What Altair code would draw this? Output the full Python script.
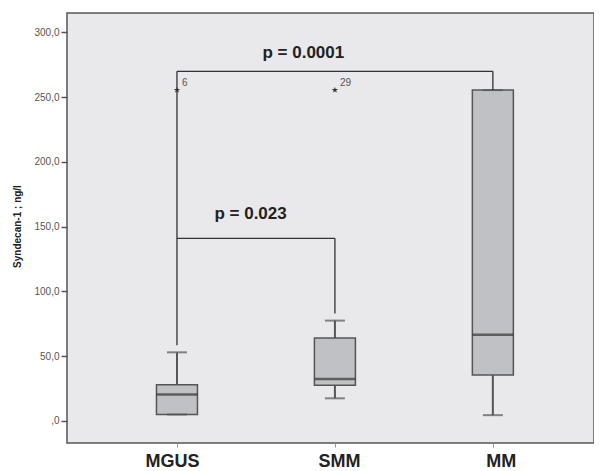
import altair as alt
import pandas as pd

# ---- data ----
groups = ["MGUS", "SMM", "MM"]
positions = [1, 2, 3]
whisker_low = [5.0, 17.5, 4.5]
q1 = [5.0, 27.5, 35.5]
median = [20.5, 32.5, 66.5]
q3 = [28.0, 64.0, 255.5]
whisker_high = [53.0, 77.5, 255.5]

outlier_pos = [1, 2]
outlier_val = [255.5, 255.5]
outlier_lbl = ["6", "29"]

# significance brackets
h_x1 = [1, 1]
h_x2 = [3, 2]
h_y = [270.0, 141.0]
v_x = [1, 3, 2]
v_y1 = [58.5, 255.5, 83.0]
v_y2 = [270.0, 270.0, 141.0]
p_text = ["p = 0.0001", "p = 0.023"]
p_x = [1.80, 1.466]
p_y = [284.0, 160.0]

y_ticks = [0, 50, 100, 150, 200, 250, 300]

boxes = pd.DataFrame({"g": groups, "x": positions, "lo": whisker_low, "q1": q1,
                      "med": median, "q3": q3, "hi": whisker_high})
outl = pd.DataFrame({"x": outlier_pos, "y": outlier_val, "lbl": outlier_lbl})
hrules = pd.DataFrame({"x": h_x1, "x2": h_x2, "y": h_y})
vrules = pd.DataFrame({"x": v_x, "y": v_y1, "y2": v_y2})
ptext = pd.DataFrame({"t": p_text, "x": p_x, "y": p_y})

W, H = 527, 430
xscale = alt.Scale(domain=[0.3354, 3.6087], nice=False, zero=False)
yscale = alt.Scale(domain=[-17, 315], nice=False, zero=False)

xaxis = alt.Axis(values=positions, title=None, grid=False, domain=False,
                 labelExpr="datum.value == 1 ? 'MGUS' : datum.value == 2 ? 'SMM' : 'MM'",
                 labelFont="Liberation Sans", labelFontSize=18, labelFontWeight="bold",
                 labelColor="#222222", tickSize=4, tickColor="#999999", labelPadding=5,
                 labelOffset={"condition": [{"test": "datum.value == 1", "value": -5},
                                            {"test": "datum.value == 3", "value": 8}],
                              "value": 4})
yaxis = alt.Axis(values=y_ticks, grid=False, domain=False,
                 labelExpr="datum.value == 0 ? ',0' : replace(format(datum.value, '.1f'), '.', ',')",
                 labelFont="Liberation Sans", labelFontSize=10, labelColor="#555555",
                 tickSize=6, tickColor="#555555", tickWidth=1.5, labelPadding=2,
                 title="Syndecan-1 ; ng/l", titleFont="Liberation Sans", titleFontSize=10,
                 titleFontWeight="bold", titleColor="#222222", titleAngle=-90,
                 titleX=-50, titleY=213, titleAlign="center", titleBaseline="middle")

base_x = alt.X("x:Q", scale=xscale, axis=xaxis)

whisk = alt.Chart(boxes).mark_rule(color="#555555", strokeWidth=2).encode(
    x=base_x, y=alt.Y("lo:Q", scale=yscale, axis=yaxis), y2="hi:Q")
box = alt.Chart(boxes).mark_bar(size=41, orient="vertical", color="#c0c1c4",
                                stroke="#555555", strokeWidth=1.5).encode(
    x=alt.X("x:Q", scale=xscale), y=alt.Y("q1:Q", scale=yscale), y2="q3:Q")
med = alt.Chart(boxes).mark_tick(orient="horizontal", size=41, thickness=2.5,
                                 color="#333333").encode(
    x=alt.X("x:Q", scale=xscale), y=alt.Y("med:Q", scale=yscale))
cap_hi = alt.Chart(boxes).mark_tick(orient="horizontal", size=20, thickness=2,
                                    color="#555555").encode(
    x=alt.X("x:Q", scale=xscale), y=alt.Y("hi:Q", scale=yscale))
cap_lo = alt.Chart(boxes).mark_tick(orient="horizontal", size=20, thickness=2,
                                    color="#555555").encode(
    x=alt.X("x:Q", scale=xscale), y=alt.Y("lo:Q", scale=yscale))

star_path = ("M0,-1L0.2245,-0.309L0.951,-0.309L0.363,0.118L0.588,0.809L0,0.382"
             "L-0.588,0.809L-0.363,0.118L-0.951,-0.309L-0.2245,-0.309Z")
stars = alt.Chart(outl).mark_point(shape=star_path, size=45, filled=True,
                                   color="#333333", opacity=1).encode(
    x=alt.X("x:Q", scale=xscale), y=alt.Y("y:Q", scale=yscale))
star_lbl = alt.Chart(outl).mark_text(dx=5, dy=-7, align="left", fontSize=10,
                                     font="Liberation Sans", color="#555555").encode(
    x=alt.X("x:Q", scale=xscale), y=alt.Y("y:Q", scale=yscale), text="lbl:N")

hr = alt.Chart(hrules).mark_rule(color="#333333", strokeWidth=1.3).encode(
    x=alt.X("x:Q", scale=xscale), x2="x2:Q", y=alt.Y("y:Q", scale=yscale))
vr = alt.Chart(vrules).mark_rule(color="#333333", strokeWidth=1.3).encode(
    x=alt.X("x:Q", scale=xscale), y=alt.Y("y:Q", scale=yscale), y2="y2:Q")
pt = alt.Chart(ptext).mark_text(fontSize=17, fontWeight="bold", font="Liberation Sans",
                                color="#222222", baseline="middle").encode(
    x=alt.X("x:Q", scale=xscale), y=alt.Y("y:Q", scale=yscale), text="t:N")

chart = alt.layer(whisk, box, med, cap_hi, cap_lo, hr, vr, stars, star_lbl, pt).properties(
    width=W, height=H,
    autosize=alt.AutoSizeParams(type="none"),
    padding={"left": 59, "top": 5, "right": 0, "bottom": 28},
    background="white",
).configure_view(fill="#e9e9eb", stroke="#555555", strokeWidth=1.5)

chart.save("out.html", embed_options={"renderer": "svg", "actions": False})
